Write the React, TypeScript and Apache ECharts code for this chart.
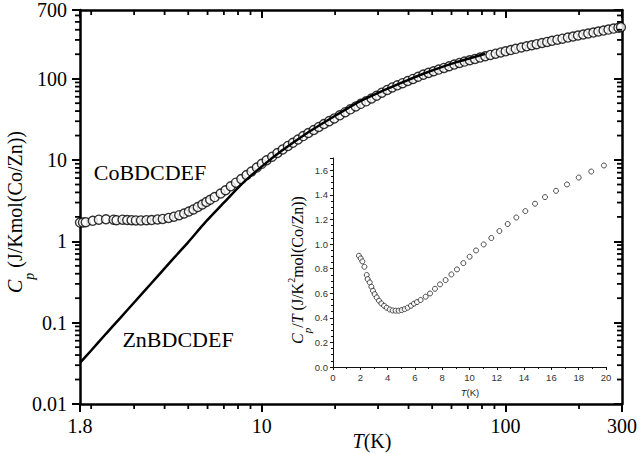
import React, { useEffect, useRef } from 'react';
import * as echarts from 'echarts';

// ---- Main chart data (log-log) ----
const coT = [1.8, 1.85, 1.9, 2.03, 2.15, 2.3, 2.47, 2.54, 2.69, 2.81, 2.93, 3.05, 3.2, 3.37, 3.54, 3.74, 3.93, 4.15, 4.37, 4.59, 4.81, 5.03, 5.25, 5.47, 5.71, 5.93, 6.15, 6.42, 6.79, 7.11, 7.47, 7.84, 8.25, 8.67, 9.08, 9.55, 10.01, 10.48, 11.04, 11.6, 12.19, 12.8, 13.43, 14.09, 14.8, 15.53, 16.34, 17.14, 18.0, 18.92, 19.85, 20.9, 22, 23.1, 24.3, 25.5, 26.8, 28.2, 29.6, 31.1, 32.7, 34.3, 36, 37.8, 39.7, 41.7, 43.8, 46, 48.3, 50.7, 53.2, 55.9, 58.7, 61.6, 64.7, 67.9, 71.3, 74.9, 78.6, 82.5, 86.6, 91, 95.5, 100, 105, 110, 116, 122, 128, 134, 141, 148, 155, 163, 171, 180, 189, 198, 208, 218, 229, 240, 252, 264, 277, 290, 297];
const coCp = [1.70, 1.71, 1.72, 1.79, 1.85, 1.87, 1.85, 1.82, 1.85, 1.83, 1.82, 1.81, 1.81, 1.82, 1.83, 1.86, 1.89, 1.94, 2.01, 2.10, 2.20, 2.33, 2.47, 2.64, 2.84, 3.05, 3.25, 3.50, 3.88, 4.25, 4.75, 5.27, 5.83, 6.53, 7.21, 8.07, 8.98, 9.94, 11.0, 12.2, 13.5, 14.9, 16.3, 17.9, 19.7, 21.5, 23.4, 25.5, 27.7, 30.1, 32.5, 35.5, 38.8, 42.0, 45.6, 49.1, 52.7, 57.1, 61.7, 67.3, 72.8, 78.1, 83.0, 88.2, 93.7, 99.5, 105.7, 112.3, 118, 123.5, 129.4, 135.8, 142.3, 149.4, 156.4, 162.4, 168.7, 175.2, 182, 189, 196.1, 203.2, 210.4, 217.4, 225.2, 232.9, 241.9, 250.3, 258.2, 266, 274.9, 283.8, 292.4, 302.2, 311, 320.8, 330.3, 339.7, 350, 360, 369.6, 380, 391, 401.9, 413.4, 424.7, 430];

const znT = [1.8, 2, 2.3, 2.63, 3, 3.5, 4, 4.5, 5, 5.88, 7, 8.3, 10, 12, 15, 20, 25, 30, 34, 40, 46, 55, 63, 72, 82.5];
const znCp = [0.032, 0.0455, 0.073, 0.114, 0.177, 0.297, 0.465, 0.69, 0.98, 1.72, 2.99, 5.1, 8.3, 12.8, 20.5, 35, 52, 67, 79, 97, 115, 140, 160, 180, 203];

// ---- Inset data (linear) ----
const insetT = [1.9, 2.03, 2.15, 2.3, 2.47, 2.54, 2.69, 2.81, 2.93, 3.05, 3.2, 3.37, 3.54, 3.74, 3.93, 4.15, 4.37, 4.59, 4.81, 5.03, 5.25, 5.47, 5.71, 5.93, 6.15, 6.42, 6.79, 7.11, 7.47, 7.84, 8.25, 8.67, 9.08, 9.55, 10.01, 10.48, 11.04, 11.6, 12.19, 12.8, 13.43, 14.09, 14.8, 15.53, 16.34, 17.14, 18.0, 18.92, 19.85];
const insetCpT = [0.905, 0.883, 0.859, 0.815, 0.748, 0.715, 0.688, 0.653, 0.62, 0.593, 0.566, 0.539, 0.517, 0.498, 0.482, 0.468, 0.46, 0.458, 0.458, 0.463, 0.471, 0.482, 0.498, 0.515, 0.528, 0.545, 0.572, 0.598, 0.636, 0.672, 0.707, 0.753, 0.794, 0.845, 0.897, 0.948, 0.997, 1.049, 1.106, 1.163, 1.216, 1.268, 1.328, 1.382, 1.433, 1.485, 1.541, 1.59, 1.639];

// ---- Axis ticks ----
const xMinorTicks = [2, 3, 4, 5, 6, 7, 8, 9, 20, 30, 40, 50, 60, 70, 80, 90, 200];
const yMinorTicks = [0.02, 0.03, 0.04, 0.05, 0.06, 0.07, 0.08, 0.09, 0.2, 0.3, 0.4, 0.5, 0.6, 0.7, 0.8, 0.9, 2, 3, 4, 5, 6, 7, 8, 9, 20, 30, 40, 50, 60, 70, 80, 90, 200, 300, 400, 500, 600];

const coName = 'CoBDCDEF';
const znName = 'ZnBDCDEF';

const SERIF = 'Liberation Serif';
const SANS = 'Liberation Sans';

type Seg = { t: string; size: number; italic?: boolean; dy?: number; family?: string };

function richLabel(segs: Seg[], cx: number, cy: number, rotation = 0, fill = '#000') {
  const ctx = document.createElement('canvas').getContext('2d') as CanvasRenderingContext2D;
  const widths = segs.map((s) => {
    ctx.font = `${s.italic ? 'italic ' : ''}${s.size}px "${s.family || SERIF}"`;
    return ctx.measureText(s.t).width;
  });
  const total = widths.reduce((a, b) => a + b, 0);
  let x = -total / 2;
  const children = segs.map((s, i) => {
    const el = {
      type: 'text',
      x,
      y: s.dy || 0,
      style: {
        text: s.t,
        fontSize: s.size,
        fontFamily: s.family || SERIF,
        fontStyle: s.italic ? 'italic' : 'normal',
        fill,
        textAlign: 'left',
        textVerticalAlign: 'middle',
        align: 'left',
        verticalAlign: 'middle',
      },
    };
    x += widths[i];
    return el;
  });
  return { type: 'group', x: cx, y: cy, rotation, children };
}

const fmt = (v: number) => String(Number(Number(v).toPrecision(4)));

export default function App() {
  const ref = useRef<HTMLDivElement>(null);
  useEffect(() => {
    if (!ref.current) return;
    const chart = echarts.init(ref.current, null, { renderer: 'svg' });
    const axisLine = { show: true, lineStyle: { color: '#000', width: 2.5 } };
    const tickStyle = { color: '#000', width: 2 };
    const option: any = {
      animation: false,
      backgroundColor: '#fff',
      grid: [
        { left: 80, top: 10, width: 546, height: 394 },
        { left: 333, top: 158, width: 273, height: 209 },
      ],
      xAxis: [
        {
          gridIndex: 0, type: 'log', logBase: 10, min: 1.8, max: 300, position: 'bottom',
          axisLine, axisTick: { show: true, inside: false, length: 8, lineStyle: tickStyle },
          axisLabel: { show: true, margin: 12, fontFamily: SERIF, fontSize: 20, color: '#000', formatter: fmt },
          splitLine: { show: false },
        },
        {
          gridIndex: 0, type: 'log', logBase: 10, min: 1.8, max: 300, position: 'top',
          axisLine, axisTick: { show: true, inside: true, length: 8, lineStyle: tickStyle },
          axisLabel: { show: false }, splitLine: { show: false },
        },
        {
          gridIndex: 1, type: 'value', min: 0, max: 20, interval: 2, position: 'bottom',
          axisLine: { show: true, lineStyle: { color: '#111', width: 1 } },
          axisTick: { show: true, inside: false, length: 3, lineStyle: { color: '#111', width: 1 } },
          minorTick: { show: true, splitNumber: 2, length: 2, lineStyle: { color: '#111', width: 1 } },
          axisLabel: { show: true, margin: 5, fontFamily: SANS, fontSize: 9.5, color: '#333' },
          splitLine: { show: false },
        },
      ],
      yAxis: [
        {
          gridIndex: 0, type: 'log', logBase: 10, min: 0.01, max: 700, position: 'left',
          axisLine, axisTick: { show: true, inside: false, length: 8, lineStyle: tickStyle },
          axisLabel: { show: true, margin: 13, fontFamily: SERIF, fontSize: 20, color: '#000', formatter: fmt },
          splitLine: { show: false },
        },
        {
          gridIndex: 0, type: 'log', logBase: 10, min: 0.01, max: 700, position: 'right',
          axisLine, axisTick: { show: true, inside: true, length: 8, lineStyle: tickStyle },
          axisLabel: { show: false }, splitLine: { show: false },
        },
        {
          gridIndex: 1, type: 'value', min: 0, max: 1.7, interval: 0.2, position: 'left',
          axisLine: { show: true, lineStyle: { color: '#111', width: 1 } },
          axisTick: { show: true, inside: false, length: 3, lineStyle: { color: '#111', width: 1 } },
          minorTick: { show: true, splitNumber: 4, length: 2, lineStyle: { color: '#111', width: 1 } },
          axisLabel: {
            show: true, margin: 5, fontFamily: SANS, fontSize: 9.5, color: '#333', showMaxLabel: false,
            formatter: (v: number) => Number(v).toFixed(1),
          },
          splitLine: { show: false },
        },
      ],
      series: [
        {
          type: 'custom', xAxisIndex: 0, yAxisIndex: 0, clip: false, silent: true, z: 5,
          data: xMinorTicks.map((v) => [v, 1]),
          renderItem: (params: any, api: any) => {
            const v = api.value(0);
            const b = api.coord([v, 0.01]);
            const t = api.coord([v, 700]);
            const st = { stroke: '#000', lineWidth: 1.8 };
            return {
              type: 'group',
              children: [
                { type: 'line', shape: { x1: b[0], y1: b[1], x2: b[0], y2: b[1] + 5 }, style: st },
                { type: 'line', shape: { x1: t[0], y1: t[1], x2: t[0], y2: t[1] + 5 }, style: st },
              ],
            };
          },
        },
        {
          type: 'custom', xAxisIndex: 0, yAxisIndex: 0, clip: false, silent: true, z: 5,
          data: yMinorTicks.map((v) => [2, v]),
          renderItem: (params: any, api: any) => {
            const v = api.value(1);
            const l = api.coord([1.8, v]);
            const r = api.coord([300, v]);
            const st = { stroke: '#000', lineWidth: 1.8 };
            return {
              type: 'group',
              children: [
                { type: 'line', shape: { x1: l[0] - 5, y1: l[1], x2: l[0], y2: l[1] }, style: st },
                { type: 'line', shape: { x1: r[0] - 5, y1: r[1], x2: r[0], y2: r[1] }, style: st },
              ],
            };
          },
        },
        {
          name: coName, type: 'scatter', xAxisIndex: 0, yAxisIndex: 0,
          data: coT.map((t, i) => [t, coCp[i]]),
          symbol: 'circle', symbolSize: 9,
          itemStyle: { color: '#fff', borderColor: '#000', borderWidth: 1.4 },
        },
        {
          name: znName, type: 'line', xAxisIndex: 0, yAxisIndex: 0,
          data: znT.map((t, i) => [t, znCp[i]]),
          showSymbol: false, smooth: 0.2,
          lineStyle: { color: '#000', width: 2.5 },
        },
        {
          name: 'inset', type: 'scatter', xAxisIndex: 2, yAxisIndex: 2,
          data: insetT.map((t, i) => [t, insetCpT[i]]),
          symbol: 'circle', symbolSize: 5,
          itemStyle: { color: '#fff', borderColor: '#222', borderWidth: 1 },
        },
      ],
      graphic: [
        richLabel([
          { t: 'C', size: 20, italic: true },
          { t: 'p', size: 14, italic: true, dy: 14 },
          { t: ' (J/Kmol(Co/Zn))', size: 20 },
        ], 15, 212, Math.PI / 2),
        richLabel([
          { t: 'T', size: 20, italic: true },
          { t: '(K)', size: 20 },
        ], 372, 441),
        richLabel([{ t: coName, size: 22 }], 150, 172),
        richLabel([{ t: znName, size: 22 }], 178, 339),
        richLabel([
          { t: 'C', size: 16, italic: true },
          { t: 'p', size: 11, italic: true, dy: 10 },
          { t: '/', size: 16 },
          { t: 'T', size: 16, italic: true },
          { t: ' (J/K', size: 16 },
          { t: '2', size: 10, dy: -6 },
          { t: 'mol(Co/Zn))', size: 16 },
        ], 297, 270, Math.PI / 2),
        richLabel([
          { t: 'T', size: 9.5, italic: true, family: SANS },
          { t: '(K)', size: 9.5, family: SANS },
        ], 470, 392, 0, '#222'),
      ],
    };
    chart.setOption(option);
    return () => chart.dispose();
  }, []);
  return (
    <div
      ref={ref}
      style={{ position: 'fixed', left: 0, top: 0, width: 640, height: 454, background: '#fff' }}
    />
  );
}
